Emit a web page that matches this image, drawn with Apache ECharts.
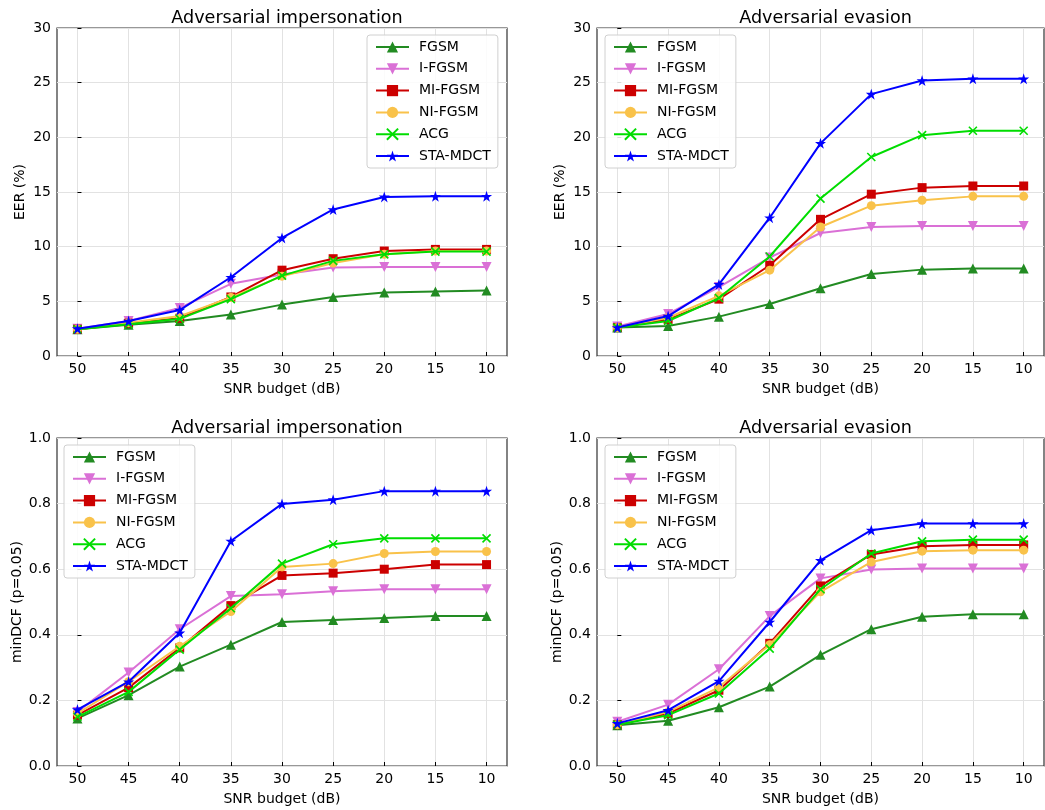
<!DOCTYPE html>
<html>
<head>
<meta charset="utf-8">
<script src="https://cdn.jsdelivr.net/npm/echarts@6/dist/echarts.min.js"></script>
<style>
html,body{margin:0;padding:0;background:#fff;}
#chart{width:1045px;height:810px;}
</style>
</head>
<body>
<div id="chart"></div>
<script>
// ---- data ----
const snrLabels = ['50','45','40','35','30','25','20','15','10'];
const methods = ['FGSM','I-FGSM','MI-FGSM','NI-FGSM','ACG','STA-MDCT'];
const panelTitles = ['Adversarial impersonation','Adversarial evasion','Adversarial impersonation','Adversarial evasion'];
const yNames = ['EER (%)','EER (%)','minDCF (p=0.05)','minDCF (p=0.05)'];

// EER, impersonation
const eerImpFGSM   = [2.45, 2.85, 3.2, 3.8, 4.7, 5.4, 5.8, 5.9, 6.0];
const eerImpIFGSM  = [2.5, 3.2, 4.4, 6.6, 7.45, 8.1, 8.15, 8.15, 8.15];
const eerImpMIFGSM = [2.45, 3.0, 3.45, 5.4, 7.85, 8.9, 9.6, 9.75, 9.75];
const eerImpNIFGSM = [2.45, 3.05, 3.65, 5.35, 7.3, 8.5, 9.3, 9.6, 9.6];
const eerImpACG    = [2.45, 2.9, 3.4, 5.2, 7.35, 8.7, 9.3, 9.55, 9.55];
const eerImpSTA    = [2.5, 3.2, 4.2, 7.2, 10.8, 13.4, 14.55, 14.6, 14.6];

// EER, evasion
const eerEvaFGSM   = [2.6, 2.75, 3.6, 4.75, 6.2, 7.5, 7.9, 8.0, 8.0];
const eerEvaIFGSM  = [2.7, 3.85, 6.3, 9.0, 11.25, 11.8, 11.9, 11.9, 11.9];
const eerEvaMIFGSM = [2.6, 3.35, 5.2, 8.3, 12.5, 14.8, 15.4, 15.55, 15.55];
const eerEvaNIFGSM = [2.6, 3.5, 5.5, 7.85, 11.8, 13.75, 14.25, 14.6, 14.6];
const eerEvaACG    = [2.6, 3.2, 5.3, 9.1, 14.4, 18.2, 20.2, 20.6, 20.6];
const eerEvaSTA    = [2.6, 3.65, 6.55, 12.65, 19.45, 23.95, 25.2, 25.35, 25.35];

// minDCF, impersonation
const dcfImpFGSM   = [0.145, 0.216, 0.303, 0.37, 0.439, 0.445, 0.451, 0.457, 0.457];
const dcfImpIFGSM  = [0.165, 0.285, 0.417, 0.518, 0.524, 0.533, 0.539, 0.539, 0.539];
const dcfImpMIFGSM = [0.155, 0.239, 0.36, 0.489, 0.581, 0.588, 0.6, 0.614, 0.614];
const dcfImpNIFGSM = [0.16, 0.257, 0.365, 0.471, 0.607, 0.617, 0.648, 0.654, 0.654];
const dcfImpACG    = [0.15, 0.226, 0.355, 0.481, 0.617, 0.676, 0.694, 0.694, 0.694];
const dcfImpSTA    = [0.172, 0.257, 0.406, 0.686, 0.799, 0.812, 0.838, 0.838, 0.838];

// minDCF, evasion
const dcfEvaFGSM   = [0.124, 0.138, 0.179, 0.242, 0.339, 0.417, 0.455, 0.463, 0.463];
const dcfEvaIFGSM  = [0.135, 0.187, 0.295, 0.457, 0.572, 0.599, 0.602, 0.602, 0.602];
const dcfEvaMIFGSM = [0.126, 0.16, 0.231, 0.374, 0.549, 0.645, 0.67, 0.674, 0.674];
const dcfEvaNIFGSM = [0.126, 0.165, 0.24, 0.37, 0.531, 0.622, 0.655, 0.658, 0.658];
const dcfEvaACG    = [0.126, 0.155, 0.221, 0.358, 0.539, 0.648, 0.685, 0.69, 0.69];
const dcfEvaSTA    = [0.13, 0.17, 0.259, 0.439, 0.627, 0.719, 0.739, 0.739, 0.739];

const panelData = [
  [eerImpFGSM, eerImpIFGSM, eerImpMIFGSM, eerImpNIFGSM, eerImpACG, eerImpSTA],
  [eerEvaFGSM, eerEvaIFGSM, eerEvaMIFGSM, eerEvaNIFGSM, eerEvaACG, eerEvaSTA],
  [dcfImpFGSM, dcfImpIFGSM, dcfImpMIFGSM, dcfImpNIFGSM, dcfImpACG, dcfImpSTA],
  [dcfEvaFGSM, dcfEvaIFGSM, dcfEvaMIFGSM, dcfEvaNIFGSM, dcfEvaACG, dcfEvaSTA]
];

// ---- styling ----
const FONT = 'DejaVu Sans';
const STAR = 'path://M50,0 L61.2,34.5 L97.6,34.5 L68.2,55.9 L79.4,90.5 L50,69.1 L20.6,90.5 L31.8,55.9 L2.4,34.5 L38.8,34.5 Z';
const XMARK = 'path://M0,0 L10,10 M10,0 L0,10';
const styles = [
  {color:'#228B22', symbol:'triangle', size:10, rotate:0},
  {color:'#DA70D6', symbol:'triangle', size:10, rotate:180},
  {color:'#CC0000', symbol:'rect', size:9, rotate:0},
  {color:'#F9C24A', symbol:'circle', size:9, rotate:0},
  {color:'#00DD00', symbol:XMARK, size:8, rotate:0, stroke:true},
  {color:'#0000FF', symbol:STAR, size:11, rotate:0}
];

const grids = [
  {left:57, top:28, width:450, height:328},
  {left:597, top:28, width:447, height:328},
  {left:57, top:438, width:450, height:328},
  {left:597, top:438, width:447, height:328}
];
const legendPos = [
  {left:367, top:35},
  {left:605, top:35},
  {left:64, top:445},
  {left:605, top:445}
];
const idx = snrLabels.map((_, i) => i);

const option = {
  backgroundColor:'#fff',
  animation:false,
  textStyle:{fontFamily:FONT},
  title: grids.map((g, k) => ({
    text: panelTitles[k],
    left: g.left + g.width/2,
    top: g.top - 24,
    textAlign:'center',
    textStyle:{fontFamily:FONT, fontSize:17.6, fontWeight:'normal', color:'#000'}
  })),
  grid: grids.map(g => Object.assign({show:true, borderColor:'#333', borderWidth:1.2, backgroundColor:'transparent'}, g)),
  legend: legendPos.map((p, k) => ({
    orient:'vertical',
    left:p.left, top:p.top,
    data: methods,
    itemWidth:33, itemHeight:14, itemGap:5.8,
    padding:[4,7,4,8],
    backgroundColor:'rgba(255,255,255,0.85)',
    borderColor:'#d0d0d0', borderWidth:1, borderRadius:3,
    textStyle:{fontFamily:FONT, fontSize:14, color:'#000', lineHeight:16, padding:[0,0,0,5]},
    selectedMode:false
  })),
  xAxis: grids.map((g, k) => ({
    type:'value', gridIndex:k, min:-0.4, max:8.4,
    name:'SNR budget (dB)', nameLocation:'middle', nameGap:26,
    nameTextStyle:{fontFamily:FONT, fontSize:14, color:'#000'},
    axisLine:{show:false},
    axisTick:{show:true, inside:true, length:4, lineStyle:{color:'#000', width:1}, customValues:idx},
    axisLabel:{show:true, margin:6, fontFamily:FONT, fontSize:14, color:'#000', customValues:idx,
      formatter: v => snrLabels[Math.round(v)]},
    splitLine:{show:true, lineStyle:{color:'#e2e2e2', width:1}}
  })),
  yAxis: grids.map((g, k) => {
    const isDcf = k >= 2;
    return {
      type:'value', gridIndex:k, min:0, max: isDcf ? 1 : 30, interval: isDcf ? 0.2 : 5,
      name: yNames[k], nameLocation:'middle', nameGap: isDcf ? 31 : 30,
      nameTextStyle:{fontFamily:FONT, fontSize:14, color:'#000'},
      axisLine:{show:false},
      axisTick:{show:true, inside:true, length:4, lineStyle:{color:'#000', width:1}},
      axisLabel:{margin:6, fontFamily:FONT, fontSize:14, color:'#000',
        formatter: v => isDcf ? v.toFixed(1) : String(v)},
      splitLine:{show:true, lineStyle:{color:'#e2e2e2', width:1}}
    };
  }),
  series: []
};

panelData.forEach((arrs, k) => {
  arrs.forEach((vals, m) => {
    const st = styles[m];
    option.series.push({
      type:'line', name: methods[m], xAxisIndex:k, yAxisIndex:k,
      data: vals.map((v, i) => [idx[i], v]),
      symbol: st.symbol, symbolSize: st.size, symbolRotate: st.rotate,
      showAllSymbol:true,
      lineStyle:{color:st.color, width:2},
      itemStyle: st.stroke ? {color:st.color, borderColor:st.color, borderWidth:1.6} : {color:st.color, borderWidth:0},
      emphasis:{disabled:true},
      z: 2 + m
    });
  });
});

const chart = echarts.init(document.getElementById('chart'), null, {renderer:'canvas'});
chart.setOption(option);
</script>
</body>
</html>
